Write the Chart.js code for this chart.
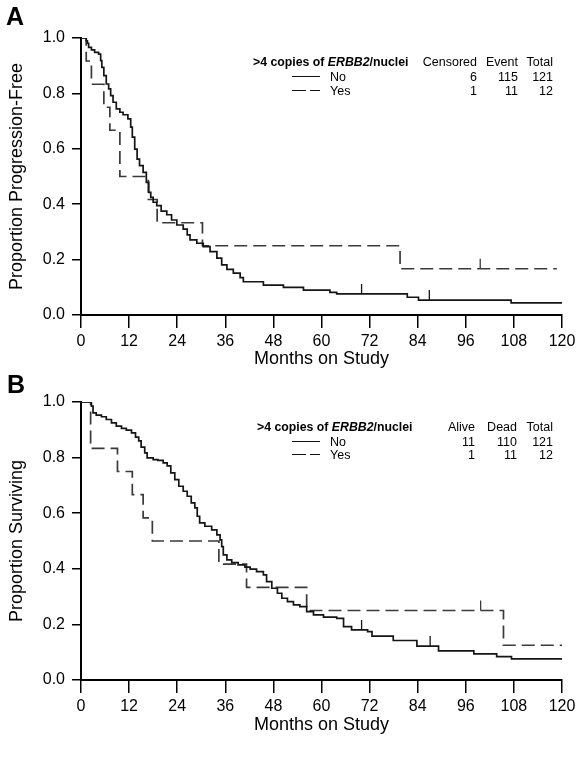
<!DOCTYPE html>
<html>
<head>
<meta charset="utf-8">
<script src="https://cdn.jsdelivr.net/npm/chart.js@4.4.0/dist/chart.umd.min.js"></script>
<style>
  body { margin: 0; background: #fff; font-family: "Liberation Sans", Arial, sans-serif; color: #000; }
  #page { position: relative; width: 582px; height: 758px; overflow: hidden; }
  .panel { position: absolute; left: 0; width: 582px; height: 379px; }
  .txt { position: absolute; white-space: nowrap; line-height: 14px; height: 14px; font-size: 12.5px; }
  .head { font-weight: bold; font-size: 12.3px; }
  .letter { position: absolute; font-weight: bold; font-size: 25px; line-height: 25px; }
  .key { position: absolute; height: 0; border-top: 1.6px solid #111; }
</style>
</head>
<body>
<div id="page">
  <div class="panel" style="top:0"><canvas id="chartA" width="582" height="379"></canvas></div>
  <div class="panel" style="top:379px"><canvas id="chartB" width="582" height="379"></canvas></div>
  <div class="letter" style="left:6px;top:4px">A</div>
  <div class="letter" style="left:7px;top:372px">B</div>
</div>
<script>
// panel A - progression-free
const pfsNoMonths = [0, 1.3, 1.6, 1.9, 2.6, 3.4, 4.4, 4.9, 5.2, 5.7, 6.3, 6.9, 7.4, 8.0, 8.8, 9.7, 10.5, 11.7, 12.4, 12.8, 13.4, 14.0, 14.6, 15.5, 16.3, 16.9, 17.4, 18.0, 18.9, 20.0, 21.4, 22.6, 23.9, 25.5, 26.5, 27.2, 28.9, 30.5, 32.2, 33.9, 35.1, 36.4, 38.0, 39.7, 40.5, 45.5, 50.5, 55.5, 62.1, 63.8, 81.4, 84.2, 107.3, 113.4, 120];
const pfsNoProp = [1.0, 0.99, 0.981, 0.966, 0.957, 0.948, 0.942, 0.918, 0.894, 0.864, 0.834, 0.816, 0.792, 0.768, 0.744, 0.732, 0.723, 0.708, 0.678, 0.642, 0.599, 0.563, 0.539, 0.515, 0.479, 0.443, 0.425, 0.407, 0.395, 0.375, 0.362, 0.343, 0.325, 0.31, 0.289, 0.271, 0.259, 0.247, 0.229, 0.205, 0.181, 0.165, 0.151, 0.135, 0.120, 0.108, 0.100, 0.090, 0.082, 0.076, 0.064, 0.054, 0.044, 0.044, 0.044];
const pfsNoCensor = [70, 86.9];
const pfsYesMonths = [0, 1.3, 2.6, 5.7, 7.2, 9.7, 16.8, 19.0, 30.3, 79.6, 118.7];
const pfsYesProp = [1.0, 0.917, 0.833, 0.75, 0.667, 0.5, 0.417, 0.333, 0.25, 0.167, 0.167];
const pfsYesCensor = [99.6];

// panel B - overall survival
const osNoMonths = [0, 2.6, 3.0, 3.8, 5.1, 6.3, 7.6, 8.8, 10.1, 11.3, 12.6, 13.6, 14.4, 15.0, 15.9, 16.5, 18.0, 19.2, 20.5, 21.5, 22.4, 23.4, 24.4, 25.5, 26.5, 27.5, 28.4, 29.0, 29.6, 30.9, 32.6, 33.9, 34.7, 35.1, 35.5, 36.4, 37.6, 39.2, 40.9, 42.2, 43.8, 45.5, 46.3, 47.6, 49.0, 50.1, 51.5, 53.0, 54.6, 56.3, 58.0, 60.5, 63.8, 65.5, 67.5, 71.5, 72.6, 77.9, 83.8, 89.2, 98.0, 103.7, 107.4, 120];
const osNoProp = [1.0, 0.985, 0.961, 0.953, 0.947, 0.937, 0.925, 0.913, 0.905, 0.899, 0.889, 0.874, 0.860, 0.838, 0.817, 0.799, 0.793, 0.790, 0.781, 0.770, 0.745, 0.721, 0.697, 0.679, 0.661, 0.637, 0.619, 0.589, 0.565, 0.553, 0.540, 0.522, 0.504, 0.480, 0.450, 0.432, 0.422, 0.414, 0.406, 0.399, 0.390, 0.378, 0.354, 0.330, 0.312, 0.294, 0.282, 0.270, 0.264, 0.246, 0.234, 0.226, 0.222, 0.192, 0.180, 0.174, 0.158, 0.142, 0.122, 0.105, 0.094, 0.084, 0.076, 0.076];
const osNoCensor = [70, 87.1];
const osYesMonths = [0, 2.4, 9.1, 12.8, 15.5, 17.8, 34.4, 41.3, 56.3, 105.4, 120];
const osYesProp = [1.0, 0.833, 0.75, 0.667, 0.583, 0.5, 0.417, 0.333, 0.25, 0.125, 0.125];
const osYesCensor = [99.7];

// legend tables
const groupNames = ['No', 'Yes'];
const pfsCols = ['Censored', 'Event', 'Total'];
const pfsCounts = [[6, 115, 121], [1, 11, 12]];
const osCols = ['Alive', 'Dead', 'Total'];
const osCounts = [[11, 110, 121], [1, 11, 12]];

const FONT = '"Liberation Sans", Arial, sans-serif';

function km(months, prop) {
  return months.map(function (m, i) { return { x: m, y: prop[i] }; });
}

// small upward ticks for censored patients
const censorMarks = {
  id: 'censorMarks',
  afterDatasetsDraw(chart) {
    const ctx = chart.ctx;
    const xs = chart.scales.x;
    const ys = chart.scales.y;
    chart.data.datasets.forEach(function (ds) {
      (ds.censor || []).forEach(function (t) {
        let v = ds.data[0].y;
        ds.data.forEach(function (p) { if (p.x <= t) v = p.y; });
        const px = xs.getPixelForValue(t);
        const py = ys.getPixelForValue(v);
        ctx.save();
        ctx.strokeStyle = ds.borderColor;
        ctx.lineWidth = 1.3;
        ctx.beginPath();
        ctx.moveTo(px, py);
        ctx.lineTo(px, py - 10);
        ctx.stroke();
        ctx.restore();
      });
    });
  }
};

function makeChart(id, cfg) {
  new Chart(document.getElementById(id), {
    type: 'line',
    data: {
      datasets: [
        { data: km(cfg.noM, cfg.noP), censor: cfg.noC, borderColor: '#151515', borderWidth: 1.7, stepped: true, pointRadius: 0, fill: false },
        { data: km(cfg.yesM, cfg.yesP), censor: cfg.yesC, borderColor: '#3a3a3a', borderWidth: 1.7, borderDash: [13, 6], stepped: true, pointRadius: 0, fill: false }
      ]
    },
    options: {
      responsive: false,
      animation: false,
      devicePixelRatio: 1,
      layout: { padding: { top: cfg.top, right: 20, left: 0, bottom: 0 } },
      plugins: { legend: { display: false }, tooltip: { enabled: false } },
      scales: {
        x: {
          type: 'linear', min: 0, max: 120,
          ticks: { stepSize: 12, padding: 4, color: '#000', font: { family: FONT, size: 16 } },
          grid: { drawOnChartArea: false, tickLength: 13, color: '#000', lineWidth: 1.5 },
          border: { color: '#000', width: 2 },
          title: { display: true, text: 'Months on Study', color: '#000', font: { family: FONT, size: 18 }, padding: { top: 0, bottom: cfg.titlePad } },
          afterFit: function (s) { s.height = cfg.xh; s.paddingLeft = 0; s.paddingRight = 0; }
        },
        y: {
          min: 0, max: 1,
          ticks: { stepSize: 0.2, padding: 7, color: '#000', font: { family: FONT, size: 16 }, callback: function (v) { return v.toFixed(1); } },
          grid: { drawOnChartArea: false, tickLength: 9, color: '#000', lineWidth: 1.5 },
          border: { color: '#000', width: 2 },
          title: { display: true, text: cfg.yTitle, color: '#000', font: { family: FONT, size: 18 }, padding: { top: 6, bottom: 0 } },
          afterFit: function (s) { s.width = 81; s.paddingTop = 0; s.paddingBottom = 0; }
        }
      }
    },
    plugins: [censorMarks]
  });
}

makeChart('chartA', {
  noM: pfsNoMonths, noP: pfsNoProp, noC: pfsNoCensor,
  yesM: pfsYesMonths, yesP: pfsYesProp, yesC: pfsYesCensor,
  yTitle: 'Proportion Progression-Free', top: 38, xh: 64, titlePad: 9
});
makeChart('chartB', {
  noM: osNoMonths, noP: osNoProp, noC: osNoCensor,
  yesM: osYesMonths, yesP: osYesProp, yesC: osYesCensor,
  yTitle: 'Proportion Surviving', top: 23, xh: 78, titlePad: 22
});

// legend blocks drawn as html text
function addText(html, cls, left, right, cy) {
  const d = document.createElement('div');
  d.className = 'txt ' + cls;
  d.innerHTML = html;
  if (left !== null) d.style.left = left + 'px';
  if (right !== null) d.style.right = (582 - right) + 'px';
  d.style.top = (cy - 7) + 'px';
  document.getElementById('page').appendChild(d);
}

function addKey(x1, x2, cy) {
  const k = document.createElement('div');
  k.className = 'key';
  k.style.left = x1 + 'px';
  k.style.width = (x2 - x1) + 'px';
  k.style.top = (cy - 0.8) + 'px';
  document.getElementById('page').appendChild(k);
}

function addLegend(cols, counts, pos) {
  addText('&gt;4 copies of <i>ERBB2</i>/nuclei', 'head', pos.headLeft, null, pos.rows[0]);
  cols.forEach(function (c, i) { addText(c, '', null, pos.colRight[i], pos.rows[0]); });
  groupNames.forEach(function (g, r) {
    const cy = pos.rows[r + 1];
    if (r === 0) {
      addKey(292, 320, cy);
    } else {
      addKey(292, 306, cy);
      addKey(310, 320, cy);
    }
    addText(g, '', 330, null, cy);
    counts[r].forEach(function (n, i) { addText(String(n), '', null, pos.colRight[i], cy); });
  });
}

addLegend(pfsCols, pfsCounts, { headLeft: 253, colRight: [477, 518, 553], rows: [62, 77, 91] });
addLegend(osCols, osCounts, { headLeft: 257, colRight: [475, 517, 553], rows: [427, 442, 455] });
</script>
</body>
</html>
